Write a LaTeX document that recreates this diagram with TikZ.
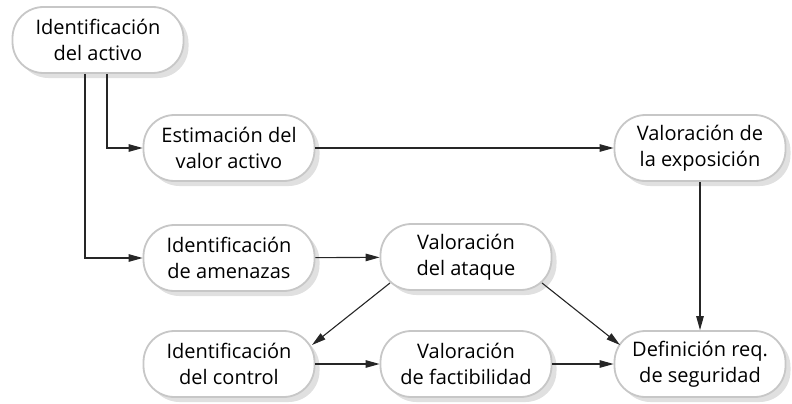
\documentclass[tikz,border=0pt]{standalone}
\usepackage{fontspec}
\setmainfont{Open Sans}
\usetikzlibrary{arrows.meta,shadows}
\begin{document}
\begin{tikzpicture}[x=1pt,y=-1pt,
  box/.style={draw=black!22, line width=1.8pt, fill=white, rectangle, rounded corners=31pt,
    minimum width=171pt, minimum height=66pt, align=center, inner sep=0pt,
    font=\fontsize{20}{26}\selectfont,
    drop shadow={shadow xshift=5pt, shadow yshift=-5pt, fill=black!12, opacity=1}},
  conn/.style={draw=black!85, line width=1.1pt, -{Triangle[length=14pt,width=7.5pt]}}]
\useasboundingbox (0,0) rectangle (792,404);
\node[box] (A) at (98,40) {Identificación\\del activo};
\node[box] (B) at (229,148) {Estimación del\\valor activo};
\node[box] (C) at (700,148) {Valoración de\\la exposición};
\node[box] (D) at (229,258) {Identificación\\de amenazas};
\node[box] (E) at (466,257) {Valoración\\del ataque};
\node[box] (F) at (229,364) {Identificación\\del control};
\node[box] (G) at (466,364) {Valoración\\de factibilidad};
\node[box] (H) at (700,364) {Definición req.\\de seguridad};
\draw[conn] ([xshift=-13pt]A.south) |- (D.west);
\draw[conn] ([xshift=9pt]A.south) |- (B.west);
\draw[conn] (B) -- (C);
\draw[conn] (C) -- (H);
\draw[conn] (D) -- (E);
\draw[conn] ([shift={(-76,26)}]E.center) -- ([shift={(83,-19)}]F.center);
\draw[conn] ([shift={(76,26)}]E.center) -- ([shift={(-80,-19)}]H.center);
\draw[conn] (F) -- (G);
\draw[conn] (G) -- (H);
\end{tikzpicture}
\end{document}
